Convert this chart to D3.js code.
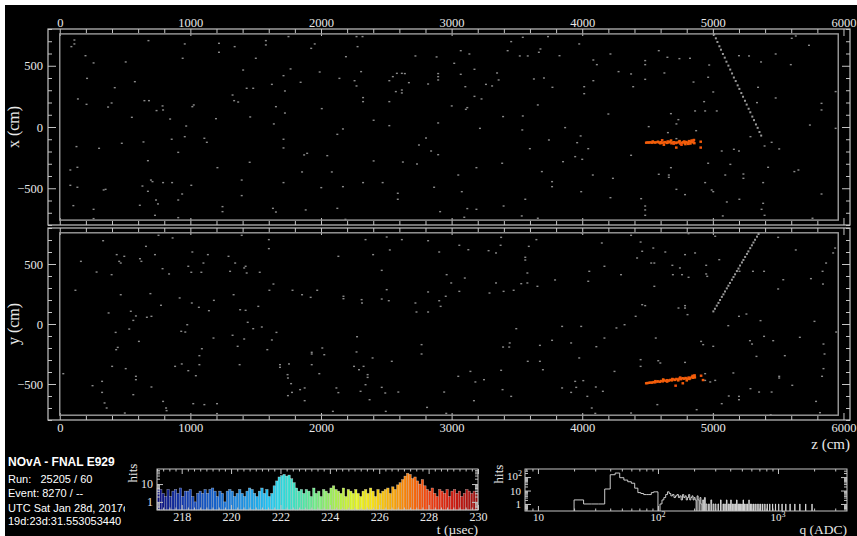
<!DOCTYPE html>
<html>
<head>
<meta charset="utf-8">
<script src="https://cdn.jsdelivr.net/npm/d3@7"></script>
<style>
  body { margin: 0; background: #fff; }
  svg { display: block; }
</style>
</head>
<body>
<script>
// ---------- data (cm, usec, ADC) ----------
const zLabels = [0, 1000, 2000, 3000, 4000, 5000, 6000];
const xyLabels = [-500, 0, 500];

// gray hits in the top (x) view: [z, x]
const xViewHits = [
  [112,710],[112,678],[89,656],[197,582],[259,523],[505,531],[679,705],[957,678],[1219,683],[1219,610],[1339,656],[1578,705],[1578,670],[1751,738],[1952,678],[1925,642],[2272,738],[2318,738],[2280,656],[2191,574],[2723,580],[2885,572],[3070,623],[3136,596],[3456,697],[3545,732],[3680,637],[3668,610],[3583,580],[3522,580],[3429,623],[3738,738],[3977,678],[3826,582],[4085,547],[4112,509],[4216,596],[4482,542],[4482,509],[4586,623],[4652,569],[4744,558],[4825,561],[4972,506],[5200,582],[5277,580],[5481,596],[5369,531],[5597,509],[5604,724],[5635,743],[5736,667],
  [941,561],[1404,465],[1501,561],[1713,419],[1767,474],[1990,449],[2141,397],[2307,452],[2257,378],[1844,365],[1624,348],[1431,316],[1481,316],[1323,261],[575,370],[421,321],[209,397],[139,229],[370,163],[397,196],[648,215],[683,215],[787,172],[791,139],[741,134],[1026,180],[1015,166],[1335,215],[1366,204],[1724,294],[2272,335],[2322,240],[2322,207],[2523,207],[2523,378],[2550,411],[2581,438],[2619,438],[2642,436],[2673,362],[2820,351],[2897,436],[2897,411],[2897,384],[3020,520],[3070,430],[3175,471],[3348,441],[3360,384],[3105,329],[3263,348],[3310,335],[3175,250],[3229,229],[2573,289],[2619,302],[2619,278],[3001,172],[3120,158],[3109,144],[3630,392],[3707,400],[3772,324],[4015,329],[4015,272],[4085,378],[4278,452],[4374,433],[4482,389],[4390,329],[4629,441],[4852,367],[4964,406],[5003,286],[4933,207],[5030,131],[4941,131],[4864,131],[5346,324],[5481,237],[5338,199],[5832,193],[5832,139],[5940,289],[4679,109],[4736,60],[4721,25],[4509,3],[4656,-46],[4872,-30],[4721,-95],
  [205,185],[552,79],[845,65],[968,8],[1196,68],[1458,82],[1639,25],[1724,114],[1655,166],[2006,150],[2168,-16],[2125,-60],[2403,55],[2523,11],[2897,33],[3217,-11],[3394,85],[3545,90],[3660,180],[3541,-24],[3869,-5],[3988,-73],[4200,106],[3853,-283],[3946,-242],[4000,-264],[4046,-177],[3961,-128],[3745,-106],[3599,-177],[2804,-90],[2750,-147],[2843,-196],[2897,-226],[2627,-286],[2735,-302],[2403,-277],[2048,-234],[1871,-228],[1894,-215],[1713,-100],[1713,-171],[1454,-288],[1107,-92],[1126,-125],[957,-79],[857,-100],[641,-122],[475,-133],[301,-174],[128,-160],[675,-275],[907,-207],[1207,-332],[1855,-367],[2083,-367],[2472,-454],[3051,-392],[3190,-332],[3387,-296],[3691,-364],[3769,-446],[3769,-487],[4081,-392],[4235,-419],[4374,-231],[4586,-386],[4663,-392],[4663,-411],[4679,-332],[4964,-296],[5068,-196],[5161,-182],[5200,-196],[5396,-155],[5450,-125],[5508,-179],[5288,-79],[5134,-305],[5095,-392],[5234,-384],[5234,-419],[5385,-454],[5423,-329],[5624,-364],[5655,-351],[5743,16],[5940,-11],
  [81,-351],[135,-329],[81,-476],[135,-492],[336,-514],[351,-509],[633,-482],[698,-433],[710,-446],[791,-454],[860,-454],[675,-525],[737,-596],[752,-628],[907,-596],[937,-547],[1007,-476],[1246,-650],[1246,-691],[1393,-433],[1393,-560],[1632,-664],[1655,-694],[1713,-454],[1883,-677],[2002,-495],[2168,-487],[2125,-664],[2187,-754],[2322,-454],[2588,-541],[2588,-590],[2866,-492],[2912,-691],[3078,-528],[3120,-666],[3190,-672],[3398,-645],[3564,-590],[3537,-726],[3660,-745],[3992,-528],[4216,-577],[4451,-585],[4482,-645],[4482,-677],[4482,-721],[4721,-509],[4787,-552],[4941,-454],[4991,-514],[5003,-528],[5107,-612],[5203,-590],[5385,-623],[5373,-672],[5396,-721],[5076,-726],[5763,-745],[5832,-547],[259,-672],[259,-748],[104,-642],[907,-740],[729,-721],[3097,-737],[613,-639]
];

// gray hits in the bottom (y) view: [z, y]
const yViewHits = [
  [332,694],[756,739],[864,717],[1393,739],[1601,703],[1601,628],[162,522],[436,578],[455,522],[467,508],[494,564],[614,544],[660,647],[729,578],[625,522],[787,461],[837,417],[1015,600],[984,481],[1007,431],[1084,431],[1100,508],[1134,578],[1292,564],[1343,508],[1412,467],[1423,481],[1304,439],[1531,431],[1431,425],[397,411],[282,433],[120,281],[467,244],[694,253],[2341,703],[2503,725],[2619,703],[2820,694],[3059,656],[3128,619],[3283,611],[3340,592],[3379,722],[3375,656],[3591,647],[3649,703],[3564,556],[3564,533],[2905,600],[2527,617],[2399,578],[2133,564],[3996,758],[4150,675],[4374,739],[4447,683],[4459,606],[4420,550],[4544,633],[4636,600],[4814,753],[4864,592],[5018,731],[5049,536],[4787,578],[4528,508],[4552,508],[4690,489],[4748,467],[4694,411],[4764,411],[4814,389],[4949,489],[4949,417],[4957,397],[5204,439],[5307,439],[5392,439],[5500,722],[5635,617],[5751,378],[5867,508],[5936,633],[5921,592],[5840,439],[5539,369],[5500,292],
  [4054,439],[4046,356],[4170,481],[4297,411],[3792,367],[3580,425],[3580,342],[3533,336],[3657,314],[3340,342],[3398,272],[3475,281],[3290,258],[2962,411],[2997,342],[3101,383],[3059,272],[2820,267],[2905,194],[2955,231],[2916,147],[2820,100],[2731,100],[2723,175],[2503,286],[2465,447],[2465,208],[2519,194],[2311,203],[2172,231],[2172,211],[2314,175],[1971,281],[1855,244],[1921,222],[1782,281],[1636,333],[1605,281],[1331,244],[1180,197],[1011,175],[1065,139],[1142,111],[918,217],[775,156],[702,64],[667,56],[544,106],[583,67],[374,92],[563,30],[532,-42],[606,-145],[428,-70],[444,-195],[432,-214],[401,-353],[505,-372],[324,-478],[251,-514],[324,-570],[343,-658],[359,-700],[27,-414],[563,-589],[583,-436],[583,-464],[702,-525],[498,-742],[791,-645],[814,-700],[818,-722],[1022,-664],[1107,-672],[1204,-664],[1204,-747],[934,-333],[984,-389],[883,-353],[1069,-339],[1042,-431],[1069,-264],[1088,-206],[961,-67],[930,-61],[976,-6],[1177,-117],[1323,-94],[1362,-186],[1377,-339],[1412,-125],[1439,14],[1481,-39],[1547,-25],[1589,-214],[1659,-70],[1624,-133],[1520,147],[1423,114],[1381,119],[1686,-339],[1686,-361],[1755,-333],[1744,-422],[1747,-450],[1771,-497],[1778,-570],[1747,-597],[1840,-547],[1875,-533],[1875,-639],[1929,-236],[1929,-250],[2010,-200],[2025,-256],[1929,-339],[1987,-414],[2118,-533],[2133,-572],[2091,-728],[2276,-106],[2272,-233],[2253,-353],[2291,-381],[2326,-353],[2357,-422],[2357,-445],[2341,-506],[2303,-561],[2372,-631],[2465,-528],[2492,-575],[2496,-728],[2592,-567],[2395,-283],[2542,-311],[2770,-172],[2770,-250],[2812,-695],[2959,-745],[2943,-567],[3051,-436],[3144,-395],[3171,-639],[3248,-464],[3182,-483],[3379,-386],[3390,-547],[3456,-603],[3394,-192],[3445,-158],[3441,-192],[3495,-39],[3583,-311],[3676,-311],[3699,-381],[3676,-178],[3769,-136],[3846,-20],[3915,-158],[3992,-20],[3977,-283],[4008,-472],[4108,-189],[4104,-525],[4170,-117],[4262,-33],[4324,-6],[4409,64],[4482,153],[4459,161],[4552,314],[4563,-117],[4737,133],[4787,133],[4787,153],[4806,78],[4910,-145],[4926,-172],[5003,-186],[5118,-14],[5200,64],[5257,83],[5284,-139],[5300,-167],[5365,28],[5334,-270],[5392,-103],[5462,-139],[5551,-264],[5666,-111],[5778,22],[5847,-167],[5855,-250],[5508,-436],[5508,-450],[5836,-436],[5790,-645],[5608,-511],[5450,-567],[5354,-567],[5288,-539],[5157,-408],[5122,-600],[5200,-603],[5200,-631],[4980,-483],[5018,-470],[4941,-414],[4941,-470],[4787,-320],[4582,-306],[4598,-325],[4447,-297],[4447,-353],[4247,-395],[4158,-561],[4073,-700],[4100,-745],[3946,-478],[3915,-570],[4039,-603],[3954,-528],[3846,-533],[4374,-742],[4575,-672],[4876,-714],[5068,-664],[5443,-756],[5820,-739],[5847,-372],[5944,-67],[5843,333]
];

// cosmic track hits
const trackXZ = [5010,5023,5035,5050,5062,5077,5091,5104,5119,5133,5147,5161,5175,5190,5203,5218,5231,5246,5259,5274,5287,5302,5315,5330,5343,5357,5370];
const trackX  = [755,724,694,659,631,596,566,533,501,469,437,404,375,340,311,277,247,214,183,149,120,85,56,21,-7,-41,-70];
const trackYZ = [5004,5016,5030,5043,5055,5069,5081,5093,5107,5119,5131,5146,5158,5170,5184,5196,5208,5223,5234,5247,5261,5272,5286,5299,5311,5323,5338,5350];
const trackY  = [105,127,153,176,200,226,247,271,297,319,342,369,391,414,441,462,487,513,534,559,584,605,632,656,679,702,728,750];

// in-time cluster: [z, x, t]
const clusterX = [
  [4490,-128,227.6],[4500,-126,227.6],[4510,-127,227.5],[4522,-125,227.6],[4533,-128,227.5],[4545,-124,227.6],[4556,-127,227.4],[4568,-125,227.6],[4580,-120,227.5],[4590,-127,227.6],[4602,-124,227.5],[4613,-129,227.7],[4625,-126,227.5],[4636,-123,227.6],[4648,-130,227.5],[4660,-127,227.6],[4672,-120,227.4],[4683,-133,227.6],[4694,-126,227.5],[4705,-124,227.6],[4716,-131,227.7],[4728,-127,227.5],[4740,-122,227.6],[4750,-135,227.8],[4762,-128,227.5],[4773,-125,227.6],[4785,-132,227.5],[4796,-122,227.6],[4808,-128,227.5],[4818,-115,227.6],[4828,-135,227.5],[4838,-110,227.6],[4846,-125,227.5],[4855,-106,227.6],[4612,-108,227.7],[4680,-110,227.5],[4625,-145,227.6],[4760,-145,227.8],[4790,-140,227.5],[4907,-120,227.6],[4907,-168,227.7],[4720,-168,227.6],
  [4540,-118,227.6],[4598,-133,227.5],[4655,-118,227.6],[4700,-136,227.7],[4745,-115,227.5],[4780,-118,227.6],[4812,-138,227.6],[4830,-120,227.5],[4850,-115,227.7],[4858,-132,227.6]
];
const clusterY = [
  [4490,-494,227.6],[4500,-492,227.5],[4512,-490,227.6],[4523,-488,227.5],[4535,-489,227.6],[4546,-484,227.5],[4558,-486,227.6],[4570,-480,227.7],[4582,-478,227.5],[4593,-482,227.6],[4605,-475,227.5],[4616,-478,227.6],[4628,-470,227.5],[4640,-474,227.6],[4651,-468,227.7],[4663,-472,227.5],[4675,-466,227.6],[4686,-470,227.5],[4698,-462,227.6],[4710,-466,227.5],[4721,-458,227.6],[4733,-462,227.7],[4745,-455,227.5],[4756,-460,227.6],[4768,-452,227.5],[4780,-456,227.6],[4791,-450,227.5],[4803,-455,227.6],[4815,-446,227.7],[4826,-452,227.5],[4838,-442,227.6],[4848,-448,227.5],[4856,-436,227.6],[4862,-445,227.5],[4715,-514,227.8],[4770,-494,227.6],[4910,-431,227.7],[4925,-467,227.6],[4800,-470,227.5],[4650,-480,227.6],
  [4560,-476,227.6],[4620,-462,227.5],[4690,-458,227.6],[4750,-446,227.7],[4820,-458,227.5],[4845,-432,227.6],[4860,-428,227.6],[4735,-470,227.5]
];

// hit time histogram, 0.1 usec bins from 217
const tStart = 217, tBin = 0.1;
const tCounts = [
  6,5,3,2,5,2,4,5,3,6,
  2,4,4,5,2,1,3,4,3,5,
  3,5,6,4,2,4,3,1,4,5,
  4,2,3,5,3,2,4,6,5,3,
  2,4,6,3,5,2,3,8,15,25,
  30,35,28,32,20,12,6,4,5,3,
  5,4,2,6,3,4,2,5,4,3,
  6,8,5,4,3,6,2,5,4,3,
  5,3,2,4,5,3,6,4,2,5,
  3,4,5,6,3,7,5,9,12,18,
  28,40,35,20,25,15,10,18,8,5,
  4,6,3,2,5,4,3,5,2,4,
  5,3,4,2,3,5,4,3,4,3
];
const tLabels = [218, 220, 222, 224, 226, 228, 230];

// hit charge histogram, 4 ADC bins (low edge, count)
const qBin = 4;
const qLow = [20,24,28,32,36,40,44,48,52,56,60,64,68,72,76,80,84,88,92,96,
  104,108,112,116,120,124,128,132,136,140,144,148,152,156,160,164,168,172,176,180,184,188,192,196,200,204,212,216,224,228,236,244,252,
  264,276,288,300,316,332,348,360,372,384,396,404,416,428,440,452,464,476,488,500,512,524,540,556,572,588,604,624,644,668,692,716,744,776,812,852,900,952,1012,1080,1160,1260,1380,1520,1700,1920];
const qCount = [2,1,1,1,13,150,200,90,60,45,35,15,7,6,5,5,5,7,8,8,
  1,2,3,5,8,6,4,5,3,4,5,3,4,2,5,3,4,2,3,5,2,3,4,2,3,2,4,2,3,1,2,3,1,
  1,2,1,1,1,2,1,1,2,1,1,2,1,1,1,2,1,1,1,1,2,1,1,1,2,1,1,1,1,1,1,1,1,1,1,1,1,1,1,1,1,1,1,1,1,1];

const infoLines = ["Run:   25205 / 60", "Event: 8270 / --", "UTC Sat Jan 28d, 2017c", "19d:23d:31.553053440"];

// ---------- layout ----------
const width = 857, height = 536;
const frameTop = { x0: 48, x1: 850, y0: 29, y1: 225 };
const frameBot = { x0: 48, x1: 850, y0: 228, y1: 420 };
const serif = "Liberation Serif, Times New Roman, serif";
const sans = "Liberation Sans, Arial, sans-serif";
const lineCol = "#c4c4c4";
const textCol = "#e8e8e8";

const svg = d3.select("body")
  .append("svg")
  .attr("width", width)
  .attr("height", height);

// white margin at top/left, black canvas
svg.append("rect").attr("width", width).attr("height", height).attr("fill", "#fff");
svg.append("rect").attr("x", 5).attr("y", 5).attr("width", width - 5).attr("height", height - 5).attr("fill", "#000");

// scales
const zScale = d3.scaleLinear().domain([-90, 6050]).range([frameTop.x0, frameTop.x1]);
const xScale = d3.scaleLinear().domain([-800, 800]).range([frameTop.y1, frameTop.y0]);
const yScale = d3.scaleLinear().domain([-800, 800]).range([frameBot.y1, frameBot.y0]);

const palette = d3.scaleLinear()
  .domain([217, 218, 219.5, 220.5, 221.5, 222.3, 223, 224, 225, 225.7, 226.5, 227.3, 228, 229, 230])
  .range(["#0c0c78", "#1438a8", "#1464cc", "#1e90e0", "#22c0f0", "#34dcd2", "#54e4a2", "#98ec5e", "#dcf222", "#f6e214", "#f6aa0a", "#f67008", "#ee4010", "#cc1a10", "#961010"]);

const zMinor = d3.range(0, 6001, 200).filter(v => v % 1000 !== 0);
const xyMinor = d3.range(-800, 801, 100).filter(v => v % 500 !== 0);

function styleAxis(g) {
  g.select(".domain").remove();
  g.selectAll(".tick line").attr("stroke", lineCol);
  g.selectAll(".tick text").attr("fill", textCol).attr("font-family", serif).attr("font-size", 12.5);
}

// draw a view: frame, detector box, ticks on four sides
function drawView(frame, vScale, labelTop, labelBottom, title) {
  const g = svg.append("g");

  // z axis ticks, top and bottom
  [["top", frame.y0, labelTop], ["bottom", frame.y1, labelBottom]].forEach(([side, y, lab]) => {
    const mk = side === "top" ? d3.axisTop : d3.axisBottom;
    g.append("g").attr("transform", `translate(0,${y})`)
      .call(mk(zScale).tickValues(zLabels).tickSize(-7).tickPadding(side === "top" ? 2 : 3).tickFormat(lab ? d3.format("d") : ""))
      .call(styleAxis);
    g.append("g").attr("transform", `translate(0,${y})`)
      .call(mk(zScale).tickValues(zMinor).tickSize(-4).tickFormat(""))
      .call(styleAxis);
  });

  // vertical ticks, left and right
  g.append("g").attr("transform", `translate(${frame.x0},0)`)
    .call(d3.axisLeft(vScale).tickValues(xyLabels).tickSize(-8).tickPadding(5).tickFormat(d => d < 0 ? "\u2212" + (-d) : d))
    .call(styleAxis);
  g.append("g").attr("transform", `translate(${frame.x0},0)`)
    .call(d3.axisLeft(vScale).tickValues(xyMinor).tickSize(-4).tickFormat(""))
    .call(styleAxis);
  g.append("g").attr("transform", `translate(${frame.x1},0)`)
    .call(d3.axisRight(vScale).tickValues(xyLabels).tickSize(-8).tickFormat(""))
    .call(styleAxis);
  g.append("g").attr("transform", `translate(${frame.x1},0)`)
    .call(d3.axisRight(vScale).tickValues(xyMinor).tickSize(-4).tickFormat(""))
    .call(styleAxis);

  // frame
  g.append("rect")
    .attr("x", frame.x0).attr("y", frame.y0)
    .attr("width", frame.x1 - frame.x0).attr("height", frame.y1 - frame.y0)
    .attr("fill", "none").attr("stroke", lineCol).attr("stroke-width", 1.2);

  // detector outline
  g.append("rect")
    .attr("x", zScale(0)).attr("y", vScale(760))
    .attr("width", zScale(5960) - zScale(0)).attr("height", vScale(-760) - vScale(760))
    .attr("fill", "none").attr("stroke", "#9c9c9c").attr("stroke-width", 1.4);

  // axis title
  g.append("text")
    .attr("transform", `translate(19,${(frame.y0 + frame.y1) / 2}) rotate(-90)`)
    .attr("text-anchor", "middle")
    .attr("font-family", serif).attr("font-size", 16).attr("fill", textCol)
    .text(title);
  return g;
}

const gTop = drawView(frameTop, xScale, true, false, "x (cm)");
const gBot = drawView(frameBot, yScale, false, true, "y (cm)");

svg.append("text")
  .attr("x", 850).attr("y", 449)
  .attr("text-anchor", "end")
  .attr("font-family", serif).attr("font-size", 15).attr("fill", textCol)
  .text("z (cm)");

// hits
function drawHits(g, pts, vScale, fill, w, h) {
  g.append("g").selectAll("rect")
    .data(pts)
    .join("rect")
    .attr("x", d => zScale(d[0]) - w / 2)
    .attr("y", d => vScale(d[1]) - h / 2)
    .attr("width", w)
    .attr("height", h)
    .attr("fill", typeof fill === "function" ? fill : () => fill);
}

drawHits(gTop, xViewHits, xScale, "#8a8a8a", 2, 1.4);
drawHits(gBot, yViewHits, yScale, "#8a8a8a", 2, 1.4);
drawHits(gTop, trackXZ.map((z, i) => [z, trackX[i]]), xScale, "#9a9a9a", 2, 2);
drawHits(gBot, trackYZ.map((z, i) => [z, trackY[i]]), yScale, "#9a9a9a", 2, 2);
drawHits(gTop, clusterX, xScale, d => palette(d[2]), 2.6, 2.4);
drawHits(gBot, clusterY, yScale, d => palette(d[2]), 2.6, 2.4);

// ---------- info text ----------
const info = svg.append("g");
info.append("clipPath").attr("id", "infoClip")
  .append("rect").attr("x", 5).attr("y", 440).attr("width", 120).attr("height", 96);
const infoG = info.append("g").attr("clip-path", "url(#infoClip)");
infoG.append("text")
  .attr("x", 8).attr("y", 466)
  .attr("font-family", sans).attr("font-weight", "bold").attr("font-size", 12).attr("fill", "#fff")
  .text("NOvA - FNAL E929");
infoG.selectAll(".line")
  .data(infoLines)
  .join("text")
  .attr("class", "line")
  .attr("x", 8)
  .attr("y", (d, i) => [483, 497, 512, 525][i])
  .attr("font-family", sans).attr("font-size", 11).attr("fill", "#fff")
  .style("white-space", "pre")
  .text(d => d);

// ---------- time histogram ----------
const tFrame = { x0: 157, x1: 478, y0: 469, y1: 510 };
const tScale = d3.scaleLinear().domain([217, 230]).range([tFrame.x0, tFrame.x1]);
const tHits = d3.scaleLog().domain([0.35, 70]).range([tFrame.y1, tFrame.y0]);

const tBins = tCounts.map((c, i) => ({ lo: tStart + i * tBin, hi: tStart + (i + 1) * tBin, c }));
const tg = svg.append("g");
tg.selectAll("rect.bin")
  .data(tBins)
  .join("rect")
  .attr("class", "bin")
  .attr("x", d => tScale(d.lo))
  .attr("width", d => tScale(d.hi) - tScale(d.lo))
  .attr("y", d => d.c > 0 ? tHits(d.c) : tFrame.y1)
  .attr("height", d => d.c > 0 ? tFrame.y1 - tHits(d.c) : 0)
  .attr("fill", d => palette((d.lo + d.hi) / 2))
  .attr("stroke", "rgba(255,255,255,0.55)")
  .attr("stroke-width", 0.5);

function histAxes(g, frame, xs, xTicks, xMinor, xFmt, ys, yTicks, yMinor, yFmt) {
  [["b", frame.y1], ["t", frame.y0]].forEach(([s, y]) => {
    const mk = s === "b" ? d3.axisBottom : d3.axisTop;
    g.append("g").attr("transform", `translate(0,${y})`)
      .call(mk(xs).tickValues(xTicks).tickSize(-5).tickPadding(2).tickFormat(s === "b" ? xFmt : ""))
      .call(styleAxis);
    g.append("g").attr("transform", `translate(0,${y})`)
      .call(mk(xs).tickValues(xMinor).tickSize(-2.5).tickFormat(""))
      .call(styleAxis);
  });
  [["l", frame.x0], ["r", frame.x1]].forEach(([s, x]) => {
    const mk = s === "l" ? d3.axisLeft : d3.axisRight;
    g.append("g").attr("transform", `translate(${x},0)`)
      .call(mk(ys).tickValues(yTicks).tickSize(-6).tickPadding(4).tickFormat(s === "l" ? yFmt : ""))
      .call(styleAxis);
    g.append("g").attr("transform", `translate(${x},0)`)
      .call(mk(ys).tickValues(yMinor).tickSize(-3).tickFormat(""))
      .call(styleAxis);
  });
  g.append("rect")
    .attr("x", frame.x0).attr("y", frame.y0)
    .attr("width", frame.x1 - frame.x0).attr("height", frame.y1 - frame.y0)
    .attr("fill", "none").attr("stroke", lineCol).attr("stroke-width", 1);
}

histAxes(tg, tFrame, tScale, tLabels, d3.range(217, 230.01, 0.25).filter(v => v % 2 !== 0), d3.format("d"),
  tHits, [1, 10], [0.4, 0.5, 0.6, 0.7, 0.8, 0.9, 2, 3, 4, 5, 6, 7, 8, 9, 20, 30, 40, 50, 60], d3.format("d"));
tg.selectAll(".tick text").attr("font-size", 12);

tg.append("text")
  .attr("x", tFrame.x1).attr("y", 534).attr("text-anchor", "end")
  .attr("font-family", serif).attr("font-size", 13.5).attr("fill", textCol)
  .text("t (\u00b5sec)");
tg.append("text")
  .attr("transform", `translate(137,${tFrame.y0 + 4}) rotate(-90)`)
  .attr("text-anchor", "middle")
  .attr("font-family", serif).attr("font-size", 13).attr("fill", textCol)
  .text("hits");

// ---------- charge histogram ----------
const qFrame = { x0: 525, x1: 847, y0: 469, y1: 511 };
const qScale = d3.scaleLog().domain([7.8, 3760]).range([qFrame.x0, qFrame.x1]);
const qHits = d3.scaleLog().domain([0.3, 400]).range([qFrame.y1, qFrame.y0]);

// step outline of the charge histogram
const qg = svg.append("g");
let qPath = "";
let prevHi = null;
qLow.forEach((lo, i) => {
  const hi = lo + qBin;
  const y = qHits(qCount[i]);
  const x0 = qScale(lo), x1 = qScale(hi);
  if (prevHi === null || prevHi !== lo) {
    if (prevHi !== null) qPath += `L${qScale(prevHi)},${qFrame.y1}`;
    qPath += `M${x0},${qFrame.y1}`;
  }
  qPath += `L${x0},${y}L${x1},${y}`;
  prevHi = hi;
});
qPath += `L${qScale(prevHi)},${qFrame.y1}`;
qg.append("path").attr("d", qPath).attr("fill", "none").attr("stroke", "#e0e0e0").attr("stroke-width", 0.9);

const qMinor = [8, 9, 20, 30, 40, 50, 60, 70, 80, 90, 200, 300, 400, 500, 600, 700, 800, 900, 2000, 3000];
const supFmt = d => d === 10 ? "10" : "";
histAxes(qg, qFrame, qScale, [10, 100, 1000], qMinor, supFmt,
  qHits, [1, 10, 100], [0.4, 0.5, 0.6, 0.7, 0.8, 0.9, 2, 3, 4, 5, 6, 7, 8, 9, 20, 30, 40, 50, 60, 70, 80, 90, 200, 300], d => d === 100 ? "" : d);
qg.selectAll(".tick text").attr("font-size", 11);

// superscript labels
[[100, "2"], [1000, "3"]].forEach(([v, p]) => {
  const t = qg.append("text").attr("x", qScale(v)).attr("y", 521).attr("text-anchor", "middle")
    .attr("font-family", serif).attr("font-size", 11).attr("fill", textCol);
  t.append("tspan").text("10");
  t.append("tspan").attr("dy", -4).attr("font-size", 8).text(p);
});
{
  const t = qg.append("text").attr("x", qFrame.x0 - 3).attr("y", qHits(100) + 3).attr("text-anchor", "end")
    .attr("font-family", serif).attr("font-size", 11).attr("fill", textCol);
  t.append("tspan").text("10");
  t.append("tspan").attr("dy", -4).attr("font-size", 8).text("2");
}
qg.append("text")
  .attr("x", qFrame.x1).attr("y", 534).attr("text-anchor", "end")
  .attr("font-family", serif).attr("font-size", 13.5).attr("fill", textCol)
  .text("q (ADC)");
qg.append("text")
  .attr("transform", `translate(503,${qFrame.y0 + 5}) rotate(-90)`)
  .attr("text-anchor", "middle")
  .attr("font-family", serif).attr("font-size", 13).attr("fill", textCol)
  .text("hits");
</script>
</body>
</html>
